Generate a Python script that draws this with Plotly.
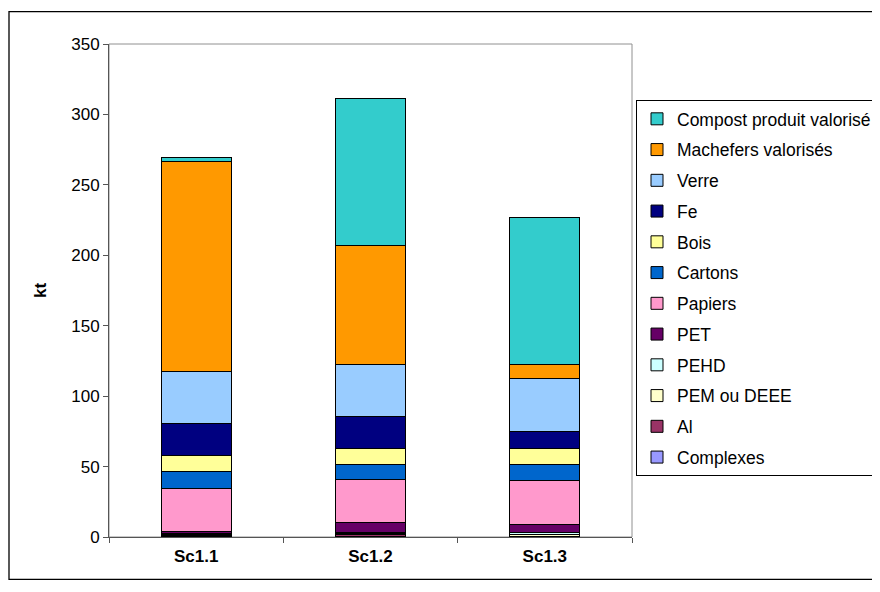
import plotly.graph_objects as go

categories = ["Sc1.1", "Sc1.2", "Sc1.3"]

series_names = ["Complexes", "Al", "PEM ou DEEE", "PEHD", "PET", "Papiers", "Cartons",
                "Bois", "Fe", "Verre", "Machefers valorisés", "Compost produit valorisé"]

complexes = [0.3, 0.3, 0.3]
al = [0.8, 1.7, 0.3]
pem = [0.5, 0.3, 1.2]
pehd = [0.8, 0.8, 1.7]
pet = [1.5, 7.0, 5.4]
papiers = [30.6, 30.5, 31.0]
cartons = [11.8, 10.6, 11.3]
bois = [11.8, 11.6, 11.6]
fe = [22.5, 22.9, 12.2]
verre = [37.0, 37.1, 37.4]
machefers = [149.1, 84.2, 10.2]
compost = [2.4, 104.2, 104.5]

series_values = [complexes, al, pem, pehd, pet, papiers, cartons, bois, fe, verre, machefers, compost]

colors = ["#9999FF", "#993366", "#FFFFCC", "#CCFFFF", "#660066", "#FF99CC", "#0066CC",
          "#FFFF99", "#000080", "#99CCFF", "#FF9900", "#33CCCC"]

y_ticks = [0, 50, 100, 150, 200, 250, 300, 350]

FONT = "Liberation Sans, Arial, sans-serif"
FS = 17
LFS = 17.5

fig = go.Figure()
n = len(series_names)
for i, (name, vals, col) in enumerate(zip(series_names, series_values, colors)):
    fig.add_trace(go.Bar(
        x=categories, y=vals, name=name,
        marker=dict(color=col, line=dict(color="#000000", width=1)),
        legendgroup=f"g{i}",
        legendrank=100 + (n - i),
    ))

# page body has an 8px margin; screen coords -> figure coords
OFF = 8
W, H = 880, 592
L = 109 - OFF
R = W - (632 - OFF)
T = 44 - OFF
B = H - (537.5 - OFF)
pw = W - L - R
ph = H - T - B

def sx(px):
    return (px - OFF - L) / pw

def sy(py):
    return (H - B - (py - OFF)) / ph

fig.update_layout(
    width=W, height=H,
    margin=dict(l=L, r=R, t=T, b=B, pad=0, autoexpand=False),
    barmode="stack",
    bargap=0.6,
    plot_bgcolor="white",
    paper_bgcolor="white",
    font=dict(family=FONT, size=FS, color="black"),
    showlegend=True,
    legend=dict(
        x=sx(636), xanchor="left",
        y=sy(100), yanchor="top",
        traceorder="grouped",
        tracegroupgap=5,
        bordercolor="black", borderwidth=1,
        bgcolor="white",
        font=dict(family=FONT, size=LFS, color="black"),
        itemwidth=30,
    ),
    xaxis=dict(
        showline=True, linecolor="#555555", linewidth=1,
        ticks="outside", ticklen=5, tickcolor="#555555",
        tickson="boundaries",
        ticklabelstandoff=4,
        tickfont=dict(family=FONT, size=FS, color="black", weight="bold"),
        showgrid=False,
    ),
    yaxis=dict(
        range=[0, 350],
        tickvals=y_ticks,
        showline=True, linecolor="#555555", linewidth=1,
        ticks="outside", ticklen=5, tickcolor="#555555",
        showgrid=False, zeroline=False,
        tickfont=dict(family=FONT, size=FS, color="black"),
        title=dict(text="<b>kt</b>", font=dict(family=FONT, size=FS, color="black"), standoff=20),
    ),
    shapes=[
        dict(type="rect", xref="paper", yref="paper", x0=0, x1=1, y0=0, y1=1,
             line=dict(color="#909090", width=1), layer="below"),
        dict(type="rect", xref="paper", yref="paper",
             x0=sx(9), x1=sx(910), y0=sy(580), y1=sy(11.5),
             line=dict(color="black", width=1.3), layer="below"),
    ],
)

fig.write_html("out.html")
